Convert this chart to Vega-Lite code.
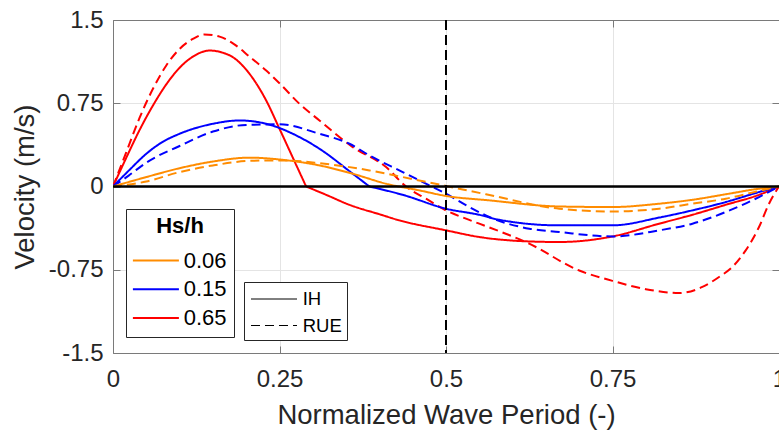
{
  "$schema": "https://vega.github.io/schema/vega-lite/v6.json",
  "width": 666,
  "height": 333,
  "autosize": {"type": "none"},
  "padding": {"left": 113, "top": 20, "right": 0, "bottom": 77},
  "background": "white",
  "config": {
    "font": "Liberation Sans",
    "view": {"stroke": null},
    "axis": {
      "labelFont": "Liberation Sans",
      "titleFont": "Liberation Sans",
      "labelColor": "#262626",
      "titleColor": "#262626",
      "labelFontSize": 24,
      "titleFontSize": 27.5,
      "titleFontWeight": "normal",
      "domainColor": "#7a7a7a",
      "tickColor": "#7a7a7a",
      "gridColor": "#e4e4e4",
      "tickSize": -7,
      "labelFlush": false,
      "labelOverlap": false
    },
    "legend": {
      "labelFont": "Liberation Sans",
      "titleFont": "Liberation Sans",
      "labelColor": "#000000",
      "titleColor": "#000000"
    }
  },
  "layer": [
    {
      "data": {
        "values": [
          {"t": 0, "v": 0, "hs": "0.65", "m": "IH", "seg": "a"},
          {"t": 0.02, "v": 0.26, "hs": "0.65", "m": "IH", "seg": "a"},
          {"t": 0.04, "v": 0.51, "hs": "0.65", "m": "IH", "seg": "a"},
          {"t": 0.06, "v": 0.73, "hs": "0.65", "m": "IH", "seg": "a"},
          {"t": 0.08, "v": 0.92, "hs": "0.65", "m": "IH", "seg": "a"},
          {"t": 0.10, "v": 1.07, "hs": "0.65", "m": "IH", "seg": "a"},
          {"t": 0.12, "v": 1.17, "hs": "0.65", "m": "IH", "seg": "a"},
          {"t": 0.145, "v": 1.225, "hs": "0.65", "m": "IH", "seg": "a"},
          {"t": 0.165, "v": 1.205, "hs": "0.65", "m": "IH", "seg": "a"},
          {"t": 0.18, "v": 1.165, "hs": "0.65", "m": "IH", "seg": "a"},
          {"t": 0.205, "v": 1.015, "hs": "0.65", "m": "IH", "seg": "a"},
          {"t": 0.23, "v": 0.775, "hs": "0.65", "m": "IH", "seg": "a"},
          {"t": 0.25, "v": 0.52, "hs": "0.65", "m": "IH", "seg": "a"},
          {"t": 0.27, "v": 0.26, "hs": "0.65", "m": "IH", "seg": "a"},
          {"t": 0.29, "v": 0, "hs": "0.65", "m": "IH", "seg": "a"},
          {"t": 0.29, "v": 0, "hs": "0.65", "m": "IH", "seg": "b"},
          {"t": 0.32, "v": -0.075, "hs": "0.65", "m": "IH", "seg": "b"},
          {"t": 0.355, "v": -0.165, "hs": "0.65", "m": "IH", "seg": "b"},
          {"t": 0.40, "v": -0.25, "hs": "0.65", "m": "IH", "seg": "b"},
          {"t": 0.43, "v": -0.305, "hs": "0.65", "m": "IH", "seg": "b"},
          {"t": 0.50, "v": -0.395, "hs": "0.65", "m": "IH", "seg": "b"},
          {"t": 0.55, "v": -0.455, "hs": "0.65", "m": "IH", "seg": "b"},
          {"t": 0.625, "v": -0.495, "hs": "0.65", "m": "IH", "seg": "b"},
          {"t": 0.67, "v": -0.5, "hs": "0.65", "m": "IH", "seg": "b"},
          {"t": 0.75, "v": -0.45, "hs": "0.65", "m": "IH", "seg": "b"},
          {"t": 0.82, "v": -0.335, "hs": "0.65", "m": "IH", "seg": "b"},
          {"t": 0.87, "v": -0.255, "hs": "0.65", "m": "IH", "seg": "b"},
          {"t": 0.92, "v": -0.165, "hs": "0.65", "m": "IH", "seg": "b"},
          {"t": 0.97, "v": -0.075, "hs": "0.65", "m": "IH", "seg": "b"},
          {"t": 1, "v": 0, "hs": "0.65", "m": "IH", "seg": "b"},

          {"t": 0, "v": 0, "hs": "0.65", "m": "RUE", "seg": "a"},
          {"t": 0.02, "v": 0.31, "hs": "0.65", "m": "RUE", "seg": "a"},
          {"t": 0.04, "v": 0.62, "hs": "0.65", "m": "RUE", "seg": "a"},
          {"t": 0.06, "v": 0.88, "hs": "0.65", "m": "RUE", "seg": "a"},
          {"t": 0.08, "v": 1.09, "hs": "0.65", "m": "RUE", "seg": "a"},
          {"t": 0.10, "v": 1.24, "hs": "0.65", "m": "RUE", "seg": "a"},
          {"t": 0.12, "v": 1.33, "hs": "0.65", "m": "RUE", "seg": "a"},
          {"t": 0.137, "v": 1.37, "hs": "0.65", "m": "RUE", "seg": "a"},
          {"t": 0.16, "v": 1.35, "hs": "0.65", "m": "RUE", "seg": "a"},
          {"t": 0.18, "v": 1.29, "hs": "0.65", "m": "RUE", "seg": "a"},
          {"t": 0.205, "v": 1.17, "hs": "0.65", "m": "RUE", "seg": "a"},
          {"t": 0.23, "v": 1.045, "hs": "0.65", "m": "RUE", "seg": "a"},
          {"t": 0.25, "v": 0.93, "hs": "0.65", "m": "RUE", "seg": "a"},
          {"t": 0.28, "v": 0.745, "hs": "0.65", "m": "RUE", "seg": "a"},
          {"t": 0.31, "v": 0.595, "hs": "0.65", "m": "RUE", "seg": "a"},
          {"t": 0.36, "v": 0.355, "hs": "0.65", "m": "RUE", "seg": "a"},
          {"t": 0.41, "v": 0.175, "hs": "0.65", "m": "RUE", "seg": "a"},
          {"t": 0.44, "v": 0.0, "hs": "0.65", "m": "RUE", "seg": "a"},
          {"t": 0.47, "v": -0.11, "hs": "0.65", "m": "RUE", "seg": "a"},
          {"t": 0.50, "v": -0.215, "hs": "0.65", "m": "RUE", "seg": "a"},
          {"t": 0.53, "v": -0.29, "hs": "0.65", "m": "RUE", "seg": "a"},
          {"t": 0.55, "v": -0.335, "hs": "0.65", "m": "RUE", "seg": "a"},
          {"t": 0.625, "v": -0.515, "hs": "0.65", "m": "RUE", "seg": "a"},
          {"t": 0.70, "v": -0.757, "hs": "0.65", "m": "RUE", "seg": "a"},
          {"t": 0.75, "v": -0.85, "hs": "0.65", "m": "RUE", "seg": "a"},
          {"t": 0.80, "v": -0.925, "hs": "0.65", "m": "RUE", "seg": "a"},
          {"t": 0.85, "v": -0.96, "hs": "0.65", "m": "RUE", "seg": "a"},
          {"t": 0.885, "v": -0.905, "hs": "0.65", "m": "RUE", "seg": "a"},
          {"t": 0.91, "v": -0.815, "hs": "0.65", "m": "RUE", "seg": "a"},
          {"t": 0.93, "v": -0.725, "hs": "0.65", "m": "RUE", "seg": "a"},
          {"t": 0.95, "v": -0.575, "hs": "0.65", "m": "RUE", "seg": "a"},
          {"t": 0.97, "v": -0.365, "hs": "0.65", "m": "RUE", "seg": "a"},
          {"t": 0.985, "v": -0.155, "hs": "0.65", "m": "RUE", "seg": "a"},
          {"t": 1, "v": 0, "hs": "0.65", "m": "RUE", "seg": "a"},

          {"t": 0, "v": 0, "hs": "0.15", "m": "IH", "seg": "a"},
          {"t": 0.024, "v": 0.145, "hs": "0.15", "m": "IH", "seg": "a"},
          {"t": 0.05, "v": 0.295, "hs": "0.15", "m": "IH", "seg": "a"},
          {"t": 0.074, "v": 0.40, "hs": "0.15", "m": "IH", "seg": "a"},
          {"t": 0.10, "v": 0.475, "hs": "0.15", "m": "IH", "seg": "a"},
          {"t": 0.15, "v": 0.565, "hs": "0.15", "m": "IH", "seg": "a"},
          {"t": 0.19, "v": 0.595, "hs": "0.15", "m": "IH", "seg": "a"},
          {"t": 0.23, "v": 0.565, "hs": "0.15", "m": "IH", "seg": "a"},
          {"t": 0.28, "v": 0.445, "hs": "0.15", "m": "IH", "seg": "a"},
          {"t": 0.31, "v": 0.34, "hs": "0.15", "m": "IH", "seg": "a"},
          {"t": 0.36, "v": 0.115, "hs": "0.15", "m": "IH", "seg": "a"},
          {"t": 0.385, "v": 0, "hs": "0.15", "m": "IH", "seg": "a"},
          {"t": 0.385, "v": 0, "hs": "0.15", "m": "IH", "seg": "b"},
          {"t": 0.435, "v": -0.075, "hs": "0.15", "m": "IH", "seg": "b"},
          {"t": 0.50, "v": -0.2, "hs": "0.15", "m": "IH", "seg": "b"},
          {"t": 0.55, "v": -0.255, "hs": "0.15", "m": "IH", "seg": "b"},
          {"t": 0.58, "v": -0.3, "hs": "0.15", "m": "IH", "seg": "b"},
          {"t": 0.67, "v": -0.35, "hs": "0.15", "m": "IH", "seg": "b"},
          {"t": 0.75, "v": -0.35, "hs": "0.15", "m": "IH", "seg": "b"},
          {"t": 0.82, "v": -0.28, "hs": "0.15", "m": "IH", "seg": "b"},
          {"t": 0.87, "v": -0.215, "hs": "0.15", "m": "IH", "seg": "b"},
          {"t": 0.92, "v": -0.14, "hs": "0.15", "m": "IH", "seg": "b"},
          {"t": 0.97, "v": -0.05, "hs": "0.15", "m": "IH", "seg": "b"},
          {"t": 1, "v": 0, "hs": "0.15", "m": "IH", "seg": "b"},

          {"t": 0, "v": 0, "hs": "0.15", "m": "RUE", "seg": "a"},
          {"t": 0.024, "v": 0.10, "hs": "0.15", "m": "RUE", "seg": "a"},
          {"t": 0.05, "v": 0.215, "hs": "0.15", "m": "RUE", "seg": "a"},
          {"t": 0.10, "v": 0.365, "hs": "0.15", "m": "RUE", "seg": "a"},
          {"t": 0.15, "v": 0.495, "hs": "0.15", "m": "RUE", "seg": "a"},
          {"t": 0.20, "v": 0.555, "hs": "0.15", "m": "RUE", "seg": "a"},
          {"t": 0.25, "v": 0.56, "hs": "0.15", "m": "RUE", "seg": "a"},
          {"t": 0.31, "v": 0.475, "hs": "0.15", "m": "RUE", "seg": "a"},
          {"t": 0.355, "v": 0.385, "hs": "0.15", "m": "RUE", "seg": "a"},
          {"t": 0.385, "v": 0.28, "hs": "0.15", "m": "RUE", "seg": "a"},
          {"t": 0.435, "v": 0.13, "hs": "0.15", "m": "RUE", "seg": "a"},
          {"t": 0.475, "v": 0.01, "hs": "0.15", "m": "RUE", "seg": "a"},
          {"t": 0.50, "v": -0.065, "hs": "0.15", "m": "RUE", "seg": "a"},
          {"t": 0.535, "v": -0.185, "hs": "0.15", "m": "RUE", "seg": "a"},
          {"t": 0.565, "v": -0.275, "hs": "0.15", "m": "RUE", "seg": "a"},
          {"t": 0.625, "v": -0.38, "hs": "0.15", "m": "RUE", "seg": "a"},
          {"t": 0.67, "v": -0.41, "hs": "0.15", "m": "RUE", "seg": "a"},
          {"t": 0.75, "v": -0.45, "hs": "0.15", "m": "RUE", "seg": "a"},
          {"t": 0.82, "v": -0.395, "hs": "0.15", "m": "RUE", "seg": "a"},
          {"t": 0.87, "v": -0.335, "hs": "0.15", "m": "RUE", "seg": "a"},
          {"t": 0.92, "v": -0.23, "hs": "0.15", "m": "RUE", "seg": "a"},
          {"t": 0.97, "v": -0.095, "hs": "0.15", "m": "RUE", "seg": "a"},
          {"t": 1, "v": 0, "hs": "0.15", "m": "RUE", "seg": "a"},

          {"t": 0, "v": 0, "hs": "0.06", "m": "IH", "seg": "a"},
          {"t": 0.05, "v": 0.085, "hs": "0.06", "m": "IH", "seg": "a"},
          {"t": 0.10, "v": 0.165, "hs": "0.06", "m": "IH", "seg": "a"},
          {"t": 0.15, "v": 0.225, "hs": "0.06", "m": "IH", "seg": "a"},
          {"t": 0.205, "v": 0.26, "hs": "0.06", "m": "IH", "seg": "a"},
          {"t": 0.255, "v": 0.24, "hs": "0.06", "m": "IH", "seg": "a"},
          {"t": 0.31, "v": 0.19, "hs": "0.06", "m": "IH", "seg": "a"},
          {"t": 0.36, "v": 0.115, "hs": "0.06", "m": "IH", "seg": "a"},
          {"t": 0.41, "v": 0.025, "hs": "0.06", "m": "IH", "seg": "a"},
          {"t": 0.46, "v": -0.035, "hs": "0.06", "m": "IH", "seg": "a"},
          {"t": 0.50, "v": -0.085, "hs": "0.06", "m": "IH", "seg": "a"},
          {"t": 0.565, "v": -0.125, "hs": "0.06", "m": "IH", "seg": "a"},
          {"t": 0.67, "v": -0.18, "hs": "0.06", "m": "IH", "seg": "a"},
          {"t": 0.75, "v": -0.185, "hs": "0.06", "m": "IH", "seg": "a"},
          {"t": 0.82, "v": -0.155, "hs": "0.06", "m": "IH", "seg": "a"},
          {"t": 0.87, "v": -0.12, "hs": "0.06", "m": "IH", "seg": "a"},
          {"t": 0.92, "v": -0.07, "hs": "0.06", "m": "IH", "seg": "a"},
          {"t": 0.97, "v": -0.02, "hs": "0.06", "m": "IH", "seg": "a"},
          {"t": 1, "v": 0, "hs": "0.06", "m": "IH", "seg": "a"},

          {"t": 0, "v": 0, "hs": "0.06", "m": "RUE", "seg": "a"},
          {"t": 0.05, "v": 0.045, "hs": "0.06", "m": "RUE", "seg": "a"},
          {"t": 0.10, "v": 0.13, "hs": "0.06", "m": "RUE", "seg": "a"},
          {"t": 0.15, "v": 0.19, "hs": "0.06", "m": "RUE", "seg": "a"},
          {"t": 0.21, "v": 0.232, "hs": "0.06", "m": "RUE", "seg": "a"},
          {"t": 0.255, "v": 0.235, "hs": "0.06", "m": "RUE", "seg": "a"},
          {"t": 0.31, "v": 0.21, "hs": "0.06", "m": "RUE", "seg": "a"},
          {"t": 0.385, "v": 0.145, "hs": "0.06", "m": "RUE", "seg": "a"},
          {"t": 0.435, "v": 0.085, "hs": "0.06", "m": "RUE", "seg": "a"},
          {"t": 0.50, "v": 0.005, "hs": "0.06", "m": "RUE", "seg": "a"},
          {"t": 0.56, "v": -0.07, "hs": "0.06", "m": "RUE", "seg": "a"},
          {"t": 0.67, "v": -0.2, "hs": "0.06", "m": "RUE", "seg": "a"},
          {"t": 0.75, "v": -0.225, "hs": "0.06", "m": "RUE", "seg": "a"},
          {"t": 0.82, "v": -0.2, "hs": "0.06", "m": "RUE", "seg": "a"},
          {"t": 0.87, "v": -0.155, "hs": "0.06", "m": "RUE", "seg": "a"},
          {"t": 0.92, "v": -0.11, "hs": "0.06", "m": "RUE", "seg": "a"},
          {"t": 0.97, "v": -0.04, "hs": "0.06", "m": "RUE", "seg": "a"},
          {"t": 1, "v": 0, "hs": "0.06", "m": "RUE", "seg": "a"}
        ]
      },
      "mark": {"type": "line", "strokeWidth": 2, "clip": true, "interpolate": "monotone"},
      "encoding": {
        "x": {
          "field": "t", "type": "quantitative",
          "scale": {"domain": [0, 1], "nice": false, "zero": false},
          "axis": {
            "orient": "bottom",
            "title": "Normalized Wave Period (-)",
            "values": [0, 0.25, 0.5, 0.75, 1],
            "labelExpr": "'' + datum.value",
            "labelPadding": 21,
            "titlePadding": 10,
            "grid": true
          }
        },
        "y": {
          "field": "v", "type": "quantitative",
          "scale": {"domain": [-1.5, 1.5], "nice": false, "zero": false},
          "axis": {
            "orient": "left",
            "title": "Velocity (m/s)",
            "values": [-1.5, -0.75, 0, 0.75, 1.5],
            "labelExpr": "'' + datum.value",
            "labelPadding": 17,
            "titlePadding": 9,
            "grid": true
          }
        },
        "detail": {"field": "seg", "type": "nominal"},
        "color": {
          "field": "hs", "type": "nominal",
          "scale": {"domain": ["0.06", "0.15", "0.65"], "range": ["#ff8c00", "#0000ff", "#ff0000"]},
          "legend": {
            "title": "Hs/h",
            "orient": "none",
            "legendX": 13,
            "legendY": 189,
            "direction": "vertical",
            "symbolType": "M-2,0L2,0",
            "symbolSize": 529,
            "symbolStrokeWidth": 2,
            "symbolOffset": 10.4,
            "labelFontSize": 22,
            "titleFontSize": 22,
            "titleFontWeight": "bold",
            "titleAnchor": "middle",
            "titleAlign": "center",
            "labelOffset": 15.3,
            "padding": 7,
            "rowPadding": 4.8,
            "titlePadding": 10,
            "strokeColor": "#262626",
            "fillColor": "white"
          }
        },
        "strokeDash": {
          "field": "m", "type": "nominal",
          "scale": {"domain": ["IH", "RUE"], "range": [[1, 0], [9, 5]]},
          "legend": {
            "title": null,
            "orient": "none",
            "legendX": 131,
            "legendY": 262,
            "direction": "vertical",
            "symbolType": "M-2,0L2,0",
            "symbolSize": 529,
            "symbolStrokeWidth": 1,
            "symbolStrokeColor": "black",
            "symbolOffset": 13,
            "labelFontSize": 18.5,
            "labelOffset": 16.7,
            "padding": 5,
            "rowPadding": 4.5,
            "strokeColor": "#262626",
            "fillColor": "white"
          }
        }
      }
    },
    {
      "data": {"values": [{"y0": 0}]},
      "mark": {"type": "rule", "color": "black", "strokeWidth": 2.5},
      "encoding": {
        "y": {
          "field": "y0", "type": "quantitative",
          "axis": {
            "orient": "right",
            "title": null,
            "labels": false,
            "grid": false,
            "values": [-1.5, -0.75, 0, 0.75, 1.5]
          }
        }
      }
    },
    {
      "data": {"values": [{"x0": 0.5}]},
      "mark": {"type": "rule", "color": "black", "strokeWidth": 2, "strokeDash": [10, 5]},
      "encoding": {
        "x": {
          "field": "x0", "type": "quantitative",
          "axis": {
            "orient": "top",
            "title": null,
            "labels": false,
            "grid": false,
            "values": [0, 0.25, 0.5, 0.75, 1]
          }
        }
      }
    }
  ],
  "resolve": {"axis": {"x": "independent", "y": "independent"}}
}
